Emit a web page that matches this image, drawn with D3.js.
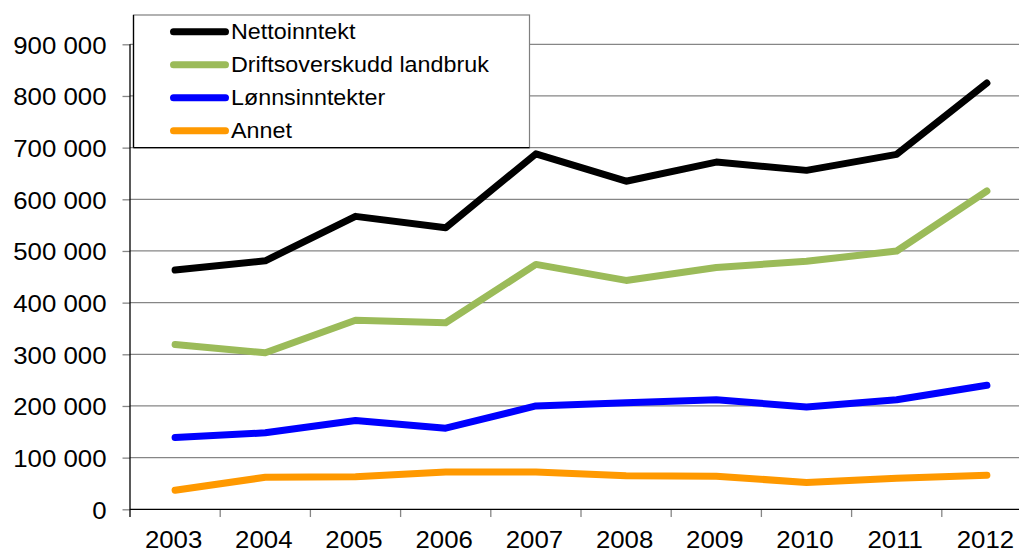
<!DOCTYPE html>
<html>
<head>
<meta charset="utf-8">
<script src="https://cdn.jsdelivr.net/npm/d3@7"></script>
<style>
  html, body { margin: 0; padding: 0; background: #fff; }
  svg { display: block; }
  text { font-family: "Liberation Sans", Arial, sans-serif; fill: #000; }
</style>
</head>
<body>
<svg id="chart" width="1019" height="550"></svg>
<script>
const years = ["2003","2004","2005","2006","2007","2008","2009","2010","2011","2012"];
const nettoinntekt = [463000, 481000, 567000, 545000, 688000, 635000, 672000, 656000, 687000, 825000];
const driftsoverskudd = [319000, 303000, 366000, 361000, 474000, 443000, 468000, 480000, 500000, 616000];
const lonnsinntekter = [139000, 148000, 172000, 157000, 200000, 206000, 212000, 198000, 212000, 240000];
const annet = [37000, 62000, 63000, 72000, 72000, 65000, 64000, 52000, 60000, 66000];
const yTicks = [0, 100000, 200000, 300000, 400000, 500000, 600000, 700000, 800000, 900000];
const seriesNames = ["Nettoinntekt", "Driftsoverskudd landbruk", "Lønnsinntekter", "Annet"];
const seriesColors = ["#000000", "#9BBB59", "#0000FF", "#FF9900"];

const series = [nettoinntekt, driftsoverskudd, lonnsinntekter, annet].map((vals, i) => ({
  name: seriesNames[i], color: seriesColors[i], values: vals
}));

const svg = d3.select("#chart");
const x = d3.scaleBand().domain(years).range([130, 1032]).padding(0);
const y = d3.scaleLinear().domain([0, 900000]).range([509.3, 44.3]);
const fmt = d3.formatLocale({decimal: ",", thousands: " ", grouping: [3], currency: ["", ""]}).format(",");

// gridlines
svg.append("g").selectAll("line").data(yTicks.filter(d => d > 0)).join("line")
  .attr("x1", 130).attr("x2", 1032)
  .attr("y1", d => y(d)).attr("y2", d => y(d))
  .attr("stroke", "#868686").attr("stroke-width", 1.3);

// y axis
const yAxis = svg.append("g").attr("transform", "translate(130,0)")
  .call(d3.axisLeft(y).tickValues(yTicks).tickSize(7.5).tickPadding(0).tickFormat(fmt));
yAxis.select(".domain").remove();
yAxis.selectAll(".tick line").attr("stroke", "#868686").attr("stroke-width", 1.3);
yAxis.selectAll(".tick text").remove();
yAxis.selectAll(".tick").append("text")
  .attr("text-anchor", "end")
  .attr("transform", "translate(-23.5,9) scale(1.075,1)")
  .style("font-size", "24px")
  .text(d => fmt(d));
svg.append("line").attr("x1", 130).attr("x2", 130).attr("y1", y(900000)).attr("y2", 517)
  .attr("stroke", "#000").attr("stroke-width", 1.3);

// x axis
const xAxis = svg.append("g").attr("transform", "translate(0,509.3)")
  .call(d3.axisBottom(x).tickSize(0).tickPadding(0));
xAxis.select(".domain").remove();
xAxis.selectAll(".tick text").remove();
xAxis.selectAll(".tick").append("text")
  .attr("text-anchor", "middle")
  .attr("transform", "translate(-1.5,38.2) scale(1.075,1)")
  .style("font-size", "24px")
  .text(d => d);
svg.append("g").selectAll("line").data(years.slice(1)).join("line")
  .attr("x1", d => x(d)).attr("x2", d => x(d))
  .attr("y1", 509.3).attr("y2", 517)
  .attr("stroke", "#868686").attr("stroke-width", 1.3);
svg.append("line").attr("x1", 130).attr("x2", 1032).attr("y1", 509.3).attr("y2", 509.3)
  .attr("stroke", "#000").attr("stroke-width", 1.3);

// lines
const line = d3.line()
  .x((d, i) => x(years[i]) + x.bandwidth() / 2)
  .y(d => y(d));
svg.append("g").selectAll("path").data(series.slice().reverse()).join("path")
  .attr("d", d => line(d.values))
  .attr("fill", "none")
  .attr("stroke", d => d.color)
  .attr("stroke-width", 7)
  .attr("stroke-linejoin", "round")
  .attr("stroke-linecap", "round");

// legend
const lg = svg.append("g");
lg.append("rect").attr("x", 133.5).attr("y", 15).attr("width", 396).attr("height", 132.7)
  .attr("fill", "#fff").attr("stroke", "#7f7f7f").attr("stroke-width", 1.2);
lg.append("line").attr("x1", 133.5).attr("x2", 133.5).attr("y1", 15).attr("y2", 147.7)
  .attr("stroke", "#000").attr("stroke-width", 1.3);
lg.append("line").attr("x1", 133.5).attr("x2", 529.5).attr("y1", 147.7).attr("y2", 147.7)
  .attr("stroke", "#000").attr("stroke-width", 1.3);
const rowY = d3.scalePoint().domain(seriesNames).range([31.7, 130.7]);
const items = lg.selectAll("g.item").data(series).join("g").attr("class", "item")
  .attr("transform", d => `translate(0,${rowY(d.name)})`);
items.append("line").attr("x1", 173.5).attr("x2", 225.5).attr("y1", 0).attr("y2", 0)
  .attr("stroke", d => d.color).attr("stroke-width", 7).attr("stroke-linecap", "round");
items.append("text")
  .attr("transform", "translate(231,7.5) scale(1.06,1)")
  .style("font-size", "22px")
  .text(d => d.name);
</script>
</body>
</html>
